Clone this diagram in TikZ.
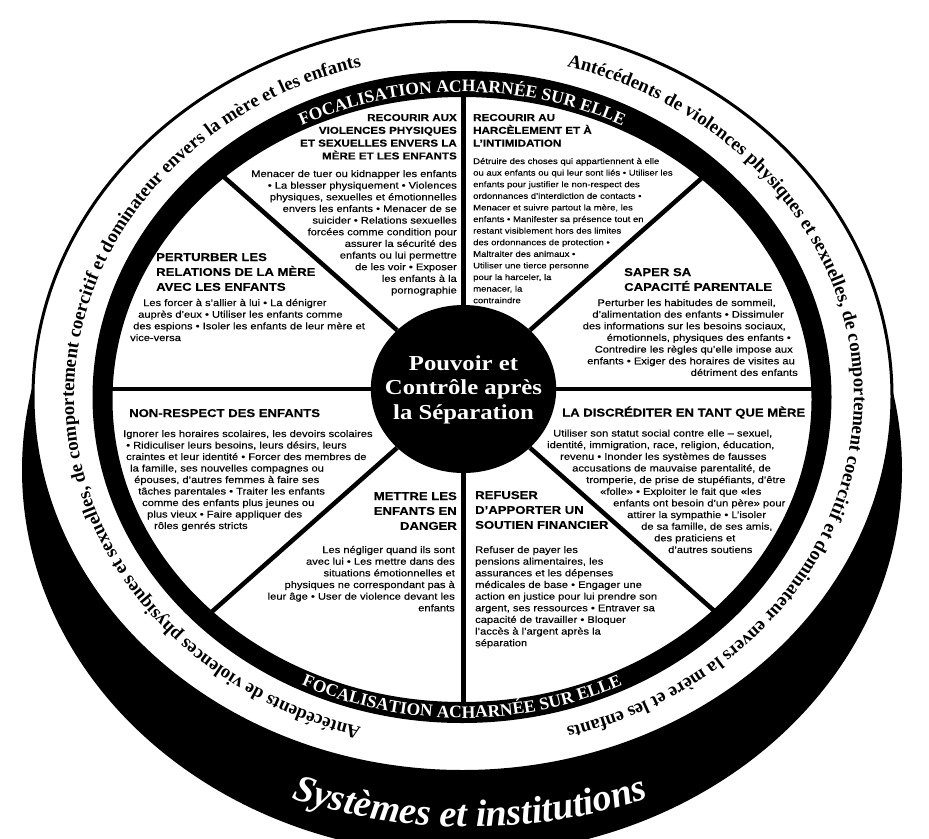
\documentclass[tikz,border=0pt]{standalone}
\usepackage{fontspec}
\setmainfont{Liberation Serif}
\newfontfamily\wsans[FakeStretch=1.16,FakeBold=0.25]{Liberation Sans}
\newfontfamily\wserif[FakeStretch=1.16]{Liberation Serif}
\usetikzlibrary{shapes.geometric,decorations.text}
\newcommand\padbox[1]{\hbox to #1{\hss}}
\tikzset{
  body/.style={inner sep=0pt, font=\wsans\fontsize{9.6}{11.65}\selectfont},
  bodysmall/.style={inner sep=0pt, font=\wsans\fontsize{8.2}{11.6}\selectfont},
  headsmall/.style={inner sep=0pt, font=\wsans\bfseries\fontsize{10}{12.8}\selectfont},
  headbig/.style={inner sep=0pt, font=\wsans\bfseries\fontsize{11.3}{14.9}\selectfont},
  spoke/.style={line width=4.5pt, black},
  hubshape/.style={ellipse, fill=black, minimum width=185.4pt, minimum height=168pt, inner sep=0pt},
  hubtext/.style={inner sep=0pt, text=white, align=center, font=\wserif\bfseries\fontsize{21.3}{24.5}\selectfont},
}
\begin{document}
\begin{tikzpicture}[x=1pt,y=1pt]
\useasboundingbox (0,0) rectangle (929,-838);
\fill[white] (0,0) rectangle (929,-838);
\clip (0,0) rectangle (929,-838);
% base (cylinder side)
\fill[black] (462,-470) ellipse [x radius=440, y radius=385];
% white disk
\draw[line width=3pt, fill=white] (462.5,-396.5) ellipse [x radius=429.5, y radius=375];
% hub
\node[hubshape] (hub) at (463.5,-389) {};
% ring coordinates
\coordinate (r0) at (822,-389);
\coordinate (r45) at (710,-170.8);
\coordinate (r90) at (463.5,-84);
\coordinate (r135) at (215.5,-169.5);
\coordinate (r180) at (102.5,-389);
\coordinate (r225) at (205,-617.8);
\coordinate (r270) at (463.5,-712);
\coordinate (r315) at (720.5,-616.4);
\foreach \r in {r0,r45,r90,r135,r180,r225,r270,r315} \draw[spoke] (hub) -- (\r);
% ring
\fill[black, even odd rule] (462,-397) ellipse [x radius=369.5, y radius=326]
  (462,-399.5) ellipse [x radius=349.5, y radius=302.5];
% hub title (anchor = baseline of last line)
\node[hubtext, anchor=base] (hubtitle) at (463.5,-419) {Pouvoir et\\Contrôle après\\la Séparation};
% ring texts
\path[decorate, decoration={text along path, text align=center, text color=white,
  text={|\bfseries\fontsize{17.5}{18}\selectfont|FOCALISATION ACHARNÉE SUR ELLE}}]
  (462,-398) ++(150:352 and 306) arc[start angle=150, end angle=30, x radius=352, y radius=306];
\path[decorate, decoration={text along path, text align=center, text color=white,
  text={|\bfseries\fontsize{17.5}{18}\selectfont|FOCALISATION ACHARNÉE SUR ELLE}}]
  (462,-398) ++(200:362 and 320) arc[start angle=200, end angle=340, x radius=362, y radius=320];
% outer band texts
\path[decorate, decoration={text along path, text align=center, text color=black,
  text={|\bfseries\fontsize{18.8}{20}\selectfont|Antécédents de violences physiques et sexuelles, de comportement coercitif et dominateur envers la mère et les enfants}}]
  (462,-397) ++(85:392 and 343) arc[start angle=85, end angle=-85, x radius=392, y radius=343];
\path[decorate, decoration={text along path, text align=center, text color=black,
  text={|\bfseries\fontsize{18.8}{20}\selectfont|Antécédents de violences physiques et sexuelles, de comportement coercitif et dominateur envers la mère et les enfants}}]
  (462,-397) ++(265:388 and 342) arc[start angle=265, end angle=95, x radius=388, y radius=342];
% base text
\path[decorate, decoration={text along path, text align=center, text color=white,
  text={|\bfseries\itshape\fontsize{38}{40}\selectfont|Systèmes et institutions}}]
  (470,-387) ++(240:500 and 440) arc[start angle=240, end angle=300, x radius=500, y radius=440];

% all multi-line nodes are anchored at the baseline of their LAST line
% sector 1
\node[headsmall, align=right, anchor=base east] (h1) at (457,-159.4)
  {RECOURIR AUX\\VIOLENCES PHYSIQUES\\ET SEXUELLES ENVERS LA\\MÈRE ET LES ENFANTS};
\node[body, align=right, anchor=base east] (b1) at (457,-293.5)
  {Menacer de tuer ou kidnapper les enfants\\
   • La blesser physiquement • Violences\\
   physiques, sexuelles et émotionnelles\\
   envers les enfants • Menacer de se\\
   suicider • Relations sexuelles\\
   forcées comme condition pour\\
   assurer la sécurité des\\
   enfants ou lui permettre\\
   de les voir • Exposer\\
   les enfants à la\\
   pornographie};
% sector 2
\node[headsmall, align=left, anchor=base west] (h2) at (473,-146.6)
  {RECOURIR AU\\HARCÈLEMENT ET À\\L’INTIMIDATION};
\node[bodysmall, align=left, anchor=base west] (b2) at (473,-303.2)
  {Détruire des choses qui appartiennent à elle\\
   ou aux enfants ou qui leur sont liés • Utiliser les\\
   enfants pour justifier le non-respect des\\
   ordonnances d’interdiction de contacts •\\
   Menacer et suivre partout la mère, les\\
   enfants • Manifester sa présence tout en\\
   restant visiblement hors des limites\\
   des ordonnances de protection •\\
   Maltraiter des animaux •\\
   Utiliser une tierce personne\\
   pour la harceler, la\\
   menacer, la\\
   contraindre};
% sector 3
\node[headbig, align=left, anchor=base west] (h3) at (624,-290.9)
  {SAPER SA\\CAPACITÉ PARENTALE};
\node[body, align=right, anchor=base east] (b3) at (798,-375.9)
  {Perturber les habitudes de sommeil,\padbox{22pt}\\
   d’alimentation des enfants • Dissimuler\padbox{14pt}\\
   des informations sur les besoins sociaux,\padbox{12pt}\\
   émotionnels, physiques des enfants •\padbox{7pt}\\
   Contredire les règles qu’elle impose aux\padbox{5pt}\\
   enfants • Exiger des horaires de visites au\padbox{3pt}\\
   détriment des enfants};
% sector 4
\node[headbig, anchor=base west] (h4) at (562,-416.5)
  {LA DISCRÉDITER EN TANT QUE MÈRE};
\node[body, align=left, anchor=base west] (b4) at (547,-553)
  {\padbox{6pt}Utiliser son statut social contre elle – sexuel,\\
   identité, immigration, race, religion, éducation,\\
   \padbox{13pt}revenu • Inonder les systèmes de fausses\\
   \padbox{25pt}accusations de mauvaise parentalité, de\\
   \padbox{39pt}tromperie, de prise de stupéfiants, d’être\\
   \padbox{53pt}«folle» • Exploiter le fait que «les\\
   \padbox{66pt}enfants ont besoin d’un père» pour\\
   \padbox{80pt}attirer la sympathie • L’isoler\\
   \padbox{94pt}de sa famille, de ses amis,\\
   \padbox{107pt}des praticiens et\\
   \padbox{121pt}d’autres soutiens};
% sector 5
\node[headbig, align=left, anchor=base west] (h5) at (475,-528.8)
  {REFUSER\\D’APPORTER UN\\SOUTIEN FINANCIER};
\node[body, align=left, anchor=base west] (b5) at (475,-646.2)
  {Refuser de payer les\\
   pensions alimentaires, les\\
   assurances et les dépenses\\
   médicales de base • Engager une\\
   action en justice pour lui prendre son\\
   argent, ses ressources • Entraver sa\\
   capacité de travailler • Bloquer\\
   l’accès à l’argent après la\\
   séparation};
% sector 6
\node[headbig, align=right, anchor=base east] (h6) at (457,-529.8)
  {METTRE LES\\ENFANTS EN\\DANGER};
\node[body, align=right, anchor=base east] (b6) at (455,-611.3)
  {Les négliger quand ils sont\\
   avec lui • Les mettre dans des\\
   situations émotionnelles et\\
   physiques ne correspondant pas à\\
   leur âge • User de violence devant les\\
   enfants};
% sector 7
\node[headbig, anchor=base west] (h7) at (129,-417)
  {NON-RESPECT DES ENFANTS};
\node[body, align=left, anchor=base west, font=\wsans\fontsize{9.6}{11.5}\selectfont] (b7) at (123,-529)
  {Ignorer les horaires scolaires, les devoirs scolaires\\
   \padbox{3pt}• Ridiculiser leurs besoins, leurs désirs, leurs\\
   \padbox{3pt}craintes et leur identité • Forcer des membres de\\
   \padbox{7pt}la famille, ses nouvelles compagnes ou\\
   \padbox{11pt}épouses, d’autres femmes à faire ses\\
   \padbox{15pt}tâches parentales • Traiter les enfants\\
   \padbox{19pt}comme des enfants plus jeunes ou\\
   \padbox{24pt}plus vieux • Faire appliquer des\\
   \padbox{31pt}rôles genrés stricts};
% sector 8
\node[headbig, align=left, anchor=base west] (h8) at (156,-290.8)
  {PERTURBER LES\\RELATIONS DE LA MÈRE\\AVEC LES ENFANTS};
\node[body, align=left, anchor=base west] (b8) at (130,-341)
  {\padbox{13pt}Les forcer à s’allier à lui • La dénigrer\\
   \padbox{8pt}auprès d’eux • Utiliser les enfants comme\\
   \padbox{3pt}des espions • Isoler les enfants de leur mère et\\
   vice-versa};
\end{tikzpicture}
\end{document}
